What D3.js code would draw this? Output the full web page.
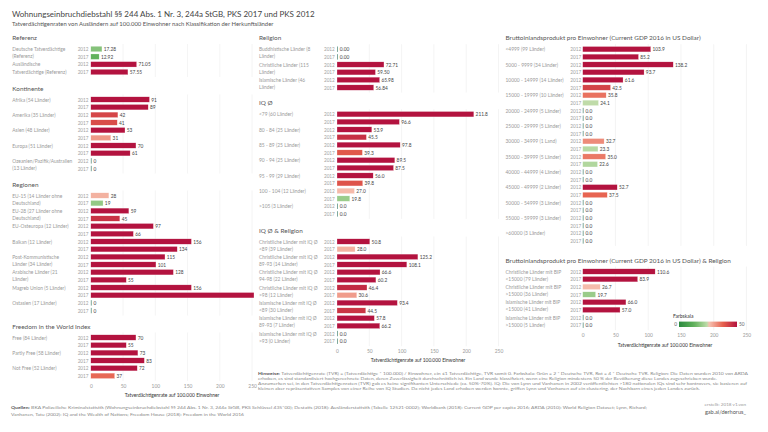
<!DOCTYPE html>
<html><head><meta charset="utf-8">
<script src="https://cdn.jsdelivr.net/npm/d3@7"></script>
<style>body{margin:0;background:#fff} svg{display:block;font-family:Lato,"Open Sans",sans-serif}</style>
</head><body><svg id="c" width="768" height="432"></svg>
<script>
const years = ["2012", "2017"];

const referenzCats = ["Deutsche Tatverdächtige\n(Referenz)", "Ausländische\nTatverdächtige (Referenz)"];
const referenz2012 = [17.28, 71.05];
const referenz2017 = [12.92, 57.55];

const kontinenteCats = ["Afrika (54 Länder)", "Amerika (35 Länder)", "Asien (48 Länder)", "Europa (51 Länder)", "Ozeanien/Pazifik/Australien\n(13 Länder)"];
const kontinente2012 = [91, 42, 53, 70, 0];
const kontinente2017 = [89, 41, 31, 61, 0];

const regionenCats = ["EU-15 (14 Länder ohne\nDeutschland)", "EU-28 (27 Länder ohne\nDeutschland)", "EU-Osteuropa (12 Länder)", "Balkan (12 Länder)", "Post-Kommunistische\nLänder (34 Länder)", "Arabische Länder (21\nLänder)", "Magreb Union (5 Länder)", "Ostasien (17 Länder)"];
const regionen2012 = [28, 59, 97, 156, 115, 128, 156, 0];
const regionen2017 = [19, 45, 66, 134, 101, 55, 253, 0];

const freedomCats = ["Free (84 Länder)", "Partly Free (58 Länder)", "Not Free (52 Länder)"];
const freedom2012 = [70, 73, 72];
const freedom2017 = [55, 83, 37];

const religionCats = ["Buddhistische Länder (8\nLänder)", "Christliche Länder (115\nLänder)", "Islamische Länder (46\nLänder)"];
const religion2012 = [0, 72.71, 65.98];
const religion2017 = [0, 59.50, 56.84];

const iqCats = ["<79 (60 Länder)", "80 - 84 (25 Länder)", "85 - 89 (25 Länder)", "90 - 94 (25 Länder)", "95 - 99 (29 Länder)", "100 - 104 (12 Länder)", ">105 (3 Länder)"];
const iq2012 = [211.8, 53.9, 97.8, 89.5, 56.0, 27.0, 0];
const iq2017 = [96.6, 45.5, 39.3, 87.5, 39.8, 19.8, 0];

const iqRelCats = ["Christliche Länder mit IQ Ø\n<89 (39 Länder)", "Christliche Länder mit IQ Ø\n89-93 (14 Länder)", "Christliche Länder mit IQ Ø\n94-98 (22 Länder)", "Christliche Länder mit IQ Ø\n>98 (12 Länder)", "Islamische Länder mit IQ Ø\n<89 (30 Länder)", "Islamische Länder mit IQ Ø\n89-93 (7 Länder)", "Islamische Länder mit IQ Ø\n>93 (0 Länder)"];
const iqRel2012 = [50.8, 125.2, 66.6, 46.4, 93.4, 57.8, 0];
const iqRel2017 = [28.0, 108.1, 60.2, 30.6, 44.5, 66.2, 0];

const gdpCats = ["<4999 (99 Länder)", "5000 - 9999 (34 Länder)", "10000 - 14999 (14 Länder)", "15000 - 19999 (10 Länder)", "20000 - 24999 (5 Länder)", "25000 - 29999 (5 Länder)", "30000 - 34999 (1 Land)", "35000 - 39999 (5 Länder)", "40000 - 44999 (4 Länder)", "45000 - 49999 (2 Länder)", "50000 - 54999 (3 Länder)", "55000 - 59999 (3 Länder)", ">60000 (3 Länder)"];
const gdp2012 = [103.9, 138.2, 61.6, 35.8, 0, 0, 32.7, 35.0, 0, 52.7, 0, 0, 0];
const gdp2017 = [85.2, 93.7, 42.5, 24.1, 0, 0, 23.3, 22.6, 0, 37.5, 0, 0, 0];

const gdpRelCats = ["Christliche Länder mit BIP\n<15000 (79 Länder)", "Christliche Länder mit BIP\n>15000 (36 Länder)", "Islamische Länder mit BIP\n<15000 (41 Länder)", "Islamische Länder mit BIP\n>15000 (5 Länder)"];
const gdpRel2012 = [110.6, 26.7, 66.0, 0];
const gdpRel2017 = [83.9, 19.7, 57.0, 0];

const tickValues = [0, 50, 100, 150, 200, 250];
const legendTicks = [0, 50];

const titleText = "Wohnungseinbruchdiebstahl §§ 244 Abs. 1 Nr. 3, 244a StGB, PKS 2017 und PKS 2012";
const subtitleText = "Tatverdächtigenraten von Ausländern auf 100.000 Einwohner nach Klassifikation der Herkunftsländer";
const axisTitle = "Tatverdächtigenrate auf 100.000 Einwohner";
const notesLines = [
  ["Hinweise: ", "Tatverdächtigenrate (TVR) = (Tatverdächtige * 100.000) / Einwohner, ein ≤1 Tatverdächtige, TVR somit 0. Farbskala: Grün = 2 * Deutsche TVR, Rot = 4 * Deutsche TVR. Religion: Die Daten wurden 2010 von ARDA"],
  ["", "erhoben, es sind standardisiert hochgerechnete Daten, deren Zuverlässigkeit durchschnittlich ist. Ein Land wurde klassifiziert, wenn eine Religion mindestens 50 % der Bevölkerung diese Landes zugeschrieben wurde."],
  ["", "Anzumerken sei, in den Tatverdächtigenraten (TVR) gab es keine signifikanten Unterschiede (ca. 50%-70%). IQ: Die von Lynn und Vanhanen in 2002 veröffentlichten >180 nationalen IQs sind sehr kontrovers, sie basieren auf"],
  ["", "kleinen aber repräsentativen Samples von einer Reihe von IQ Studien. Da nicht jedes Land erhoben werden konnte, griffen Lynn und Vanhanen auf ein clustering, der Nachbarn eines jeden Landes zurück."]
];
const sourceLines = [
  ["Quellen: ", "BKA Polizeiliche Kriminalstatistik (Wohnungseinbruchdiebstahl §§ 244 Abs. 1 Nr. 3, 244a StGB, PKS Schlüssel 435*00); Destatis (2018): Ausländerstatistik (Tabelle 12521-0002); Worldbank (2018): Current GDP per capita 2016; ARDA (2010): World Religion Dataset; Lynn, Richard;"],
  ["", "Vanhanen, Tatu (2002): IQ and the Wealth of Nations; Freedom House (2018): Freedom in the World 2016"]
];

// ---------- layout ----------
const svg = d3.select("#c");
const cols = [
  {labelX: 12.3, yearX: 88.5, zero: 90.8, k: 0.645, tickY: 386, axTitleY: 395, axTitleX: 172},
  {labelX: 259, yearX: 334.8, zero: 337, k: 0.646, tickY: 351, axTitleY: 359.5, axTitleX: 418},
  {labelX: 505.5, yearX: 581.2, zero: 582.7, k: 0.655, tickY: 335, axTitleY: 344.7, axTitleX: 665}
];
cols.forEach(c => { c.x = d3.scaleLinear().domain([0, 250]).range([c.zero, c.zero + 250 * c.k]); });

const sections = [
  {col: 0, title: "Referenz", hy: 37.5, cats: referenzCats, a: referenz2012, b: referenz2017, fmt: ".2f"},
  {col: 0, title: "Kontinente", hy: 88, cats: kontinenteCats, a: kontinente2012, b: kontinente2017, fmt: "d"},
  {col: 0, title: "Regionen", hy: 184, cats: regionenCats, a: regionen2012, b: regionen2017, fmt: "d"},
  {col: 0, title: "Freedom in the World Index", hy: 326, cats: freedomCats, a: freedom2012, b: freedom2017, fmt: "d"},
  {col: 1, title: "Religion", hy: 37.7, cats: religionCats, a: religion2012, b: religion2017, fmt: ".2f"},
  {col: 1, title: "IQ Ø", hy: 102.7, cats: iqCats, a: iq2012, b: iq2017, fmt: ".1f"},
  {col: 1, title: "IQ Ø & Religion", hy: 230, cats: iqRelCats, a: iqRel2012, b: iqRel2017, fmt: ".1f"},
  {col: 2, title: "Bruttoinlandsprodukt pro Einwohner (Current GDP 2016 in US Dollar)", hy: 37.7, cats: gdpCats, a: gdp2012, b: gdp2017, fmt: ".1f"},
  {col: 2, title: "Bruttoinlandsprodukt pro Einwohner (Current GDP 2016 in US Dollar) & Religion", hy: 260, cats: gdpRelCats, a: gdpRel2012, b: gdpRel2017, fmt: ".1f"}
];

const color = d3.scaleLinear()
  .domain([0, 13, 24, 26, 38, 50])
  .range(["#2b8a3e", "#62b25c", "#bcdca8", "#f6c2b2", "#e6604d", "#b3133f"])
  .clamp(true);

const pitch = 7.67, barH = 5.4;

// title
svg.append("text").attr("x", 12).attr("y", 17).attr("font-size", 8).attr("fill", "#444").text(titleText);
svg.append("text").attr("x", 12).attr("y", 25.5).attr("font-size", 5.9).attr("fill", "#555").text(subtitleText);

sections.forEach(s => {
  const c = cols[s.col];
  const g = svg.append("g");
  const y0 = s.hy + 11.5;
  const rows = [];
  s.cats.forEach((cat, i) => {
    [s.a[i], s.b[i]].forEach((v, j) => rows.push({cat, i, j, v, y: y0 + (i * 2 + j) * pitch}));
  });
  const yTop = y0 - 5, yBot = rows[rows.length - 1].y + 5;
  // gridlines
  g.selectAll("line.grid").data(tickValues.slice(1)).join("line")
    .attr("x1", d => c.x(d)).attr("x2", d => c.x(d))
    .attr("y1", yTop).attr("y2", yBot).attr("stroke", "#ececec").attr("stroke-width", 0.6);
  // heading
  g.append("text").attr("x", c.labelX).attr("y", s.hy).attr("dominant-baseline", "central")
    .attr("font-size", 6.4).attr("fill", "#555").text(s.title);
  // category labels
  s.cats.forEach((cat, i) => {
    const yy = y0 + i * 2 * pitch;
    cat.split("\n").forEach((ln, l) => {
      g.append("text").attr("x", c.labelX).attr("y", yy + l * 7.2).attr("dominant-baseline", "central")
        .attr("font-size", 4.9).attr("fill", "#9a9a9a").text(ln);
    });
  });
  // year labels
  g.selectAll("text.yr").data(rows).join("text")
    .attr("x", c.yearX).attr("y", d => d.y).attr("text-anchor", "end").attr("dominant-baseline", "central")
    .attr("font-size", 4.7).attr("fill", "#a0a0a0").text(d => years[d.j]);
  // bars
  g.selectAll("rect.bar").data(rows).join("rect")
    .attr("x", c.x(0)).attr("y", d => d.y - barH / 2)
    .attr("width", d => d.v > 0 ? c.x(d.v) - c.x(0) : 1)
    .attr("height", barH)
    .attr("fill", d => d.v > 0 ? color(d.v) : "#7fa99c")
    .attr("stroke", d => d.v > 0 ? "#fff" : "none").attr("stroke-width", 0.4).attr("stroke-opacity", 0.6);
  // values (labels running past the axis range are clipped away, as in the source dashboard)
  const f = d3.format(s.fmt);
  const xMax = c.x.range()[1];
  g.selectAll("text.val").data(rows.filter(d => c.x(d.v) <= xMax)).join("text")
    .attr("x", d => (d.v > 0 ? c.x(d.v) : c.x(0) + 1) + 1.8).attr("y", d => d.y)
    .attr("dominant-baseline", "central").attr("font-size", 4.8).attr("fill", "#444")
    .text(d => f(d.v));
});

// axes
cols.forEach(c => {
  const ax = d3.axisBottom(c.x).tickValues(tickValues).tickSize(0).tickPadding(0);
  const ag = svg.append("g").attr("transform", `translate(0,${c.tickY})`).call(ax);
  ag.select(".domain").remove();
  ag.selectAll("text").attr("dy", "0.35em").attr("y", 0).attr("font-size", 4.9).attr("fill", "#999")
    .attr("font-family", "Lato, sans-serif");
  svg.append("text").attr("x", c.axTitleX).attr("y", c.axTitleY).attr("text-anchor", "middle")
    .attr("dominant-baseline", "central").attr("font-size", 4.9).attr("fill", "#333").text(axisTitle);
});

// legend
const lg = svg.append("g");
const lx = d3.scaleLinear().domain([0, 50]).range([679, 737]);
const grad = svg.append("defs").append("linearGradient").attr("id", "lgGrad");
d3.range(0, 51, 2).forEach(v => grad.append("stop").attr("offset", (v / 50 * 100) + "%").attr("stop-color", color(v)));
lg.append("text").attr("x", 673).attr("y", 316).attr("dominant-baseline", "central").attr("font-size", 5).attr("fill", "#333").text("Farbskala");
lg.append("rect").attr("x", lx(0)).attr("y", 321.6).attr("width", lx(50) - lx(0)).attr("height", 5.4).attr("fill", "url(#lgGrad)");
lg.selectAll("text.lt").data(legendTicks).join("text")
  .attr("x", d => d === 0 ? lx(d) - 2 : lx(d) + 2).attr("y", 324.3)
  .attr("text-anchor", d => d === 0 ? "end" : "start").attr("dominant-baseline", "central")
  .attr("font-size", 4.8).attr("fill", "#666").text(d => d);

// notes
const noteWidths = [490, 459, 489, 442];
notesLines.forEach((ln, i) => {
  const t = svg.append("text").attr("x", 258).attr("y", 372.5 + i * 5).attr("dominant-baseline", "central")
    .attr("font-size", 4.4).attr("fill", "#888")
    .attr("textLength", noteWidths[i]).attr("lengthAdjust", "spacingAndGlyphs");
  if (ln[0]) t.append("tspan").attr("font-weight", "bold").attr("fill", "#555").text(ln[0]);
  t.append("tspan").text(ln[1]);
});

// sources
const srcWidths = [636, 233];
sourceLines.forEach((ln, i) => {
  const t = svg.append("text").attr("x", 11).attr("y", 407 + i * 6.5).attr("dominant-baseline", "central")
    .attr("font-size", 4.4).attr("fill", "#888")
    .attr("textLength", srcWidths[i]).attr("lengthAdjust", "spacingAndGlyphs");
  if (ln[0]) t.append("tspan").attr("font-weight", "bold").attr("fill", "#555").text(ln[0]);
  t.append("tspan").text(ln[1]);
});

svg.append("text").attr("x", 746).attr("y", 404).attr("text-anchor", "end").attr("dominant-baseline", "central")
  .attr("font-size", 4.6).attr("fill", "#999").text("erstellt: 2018 v1.von");
svg.append("text").attr("x", 746).attr("y", 411).attr("text-anchor", "end").attr("dominant-baseline", "central")
  .attr("font-size", 5.6).attr("fill", "#555").text("gab.ai/derhorus_");
</script></body></html>
